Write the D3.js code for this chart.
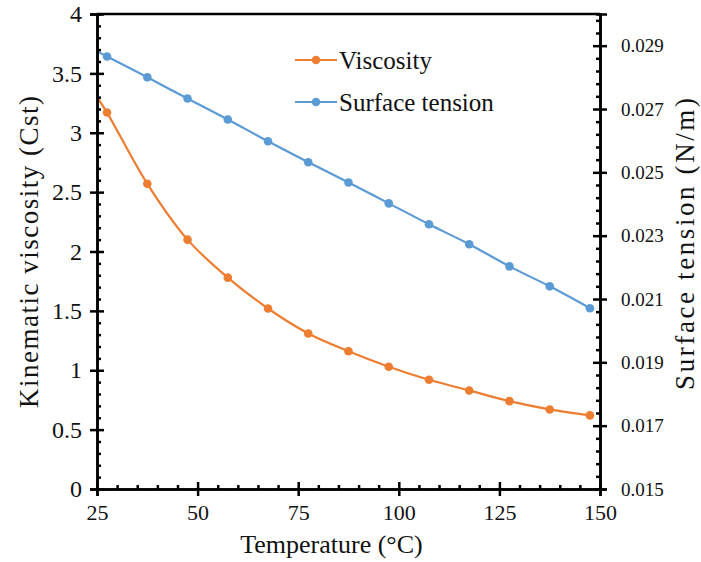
<!DOCTYPE html>
<html>
<head>
<meta charset="utf-8">
<script src="https://cdn.jsdelivr.net/npm/d3@7"></script>
<style>
  body { margin: 0; background: #fff; }
  svg text { font-family: "Liberation Serif", "Times New Roman", serif; fill: #111; }
</style>
</head>
<body>
<svg id="chart" width="701" height="562"></svg>
<script>
// temperatures (°C) and the two series
const temps = [25, 27.5, 37.5, 47.5, 57.5, 67.5, 77.5, 87.5, 97.5, 107.5, 117.5, 127.5, 137.5, 147.5];
const viscosity = [3.30, 3.17, 2.57, 2.10, 1.78, 1.52, 1.31, 1.16, 1.03, 0.92, 0.83, 0.74, 0.67, 0.62];
const tension = [0.02882, 0.02866, 0.0280, 0.02733, 0.02667, 0.02598, 0.02532, 0.02468, 0.02402, 0.02336, 0.02273, 0.02203, 0.0214, 0.02071];

const xTicks = [25, 50, 75, 100, 125, 150];
const yLeftTicks = [0, 0.5, 1, 1.5, 2, 2.5, 3, 3.5, 4];
const yRightTicks = [0.015, 0.017, 0.019, 0.021, 0.023, 0.025, 0.027, 0.029];

const seriesNames = ["Viscosity", "Surface tension"];
const colors = ["#ED7D31", "#5B9BD5"];

const svg = d3.select("#chart");
const L = 97, R = 600, T = 14, B = 489;

const x = d3.scaleLinear().domain([25, 150]).range([L, R]);
const yL = d3.scaleLinear().domain([0, 4]).range([B, T]);
const yR = d3.scaleLinear().domain([0.015, 0.030]).range([B, T]);

const minorX = d3.range(25, 150.01, 5);
const minorL = d3.range(0, 4.001, 0.1);
const minorR = d3.range(0.015, 0.0300001, 0.0004);

// series
const line = (ys, yScale) => d3.line()
    .x((d, i) => x(temps[i]))
    .y(d => yScale(d))
    .curve(d3.curveCatmullRom.alpha(0.5))(ys);

const series = [
    { name: seriesNames[0], values: viscosity, scale: yL, color: colors[0] },
    { name: seriesNames[1], values: tension, scale: yR, color: colors[1] }
];

series.forEach(s => {
    svg.append("path")
        .attr("d", line(s.values, s.scale))
        .attr("fill", "none")
        .attr("stroke", s.color)
        .attr("stroke-width", 2.2);
    // the 25 °C start point sits on the axis, no marker shows there
    svg.append("g").selectAll("circle")
        .data(s.values.slice(1))
        .join("circle")
        .attr("cx", (d, i) => x(temps[i + 1]))
        .attr("cy", d => s.scale(d))
        .attr("r", 4.3)
        .attr("fill", s.color);
});

// top frame line
svg.append("line")
    .attr("x1", L).attr("x2", R).attr("y1", T).attr("y2", T)
    .attr("stroke", "#000").attr("stroke-width", 2.5);

function styleAxis(g) {
    g.selectAll(".domain").attr("stroke", "#000").attr("stroke-width", 2.5);
    g.selectAll(".tick line").attr("stroke", "#000").attr("stroke-width", 2.5);
}

// bottom axis: labels + outward major ticks, inward minor ticks
svg.append("g")
    .attr("transform", `translate(0,${B})`)
    .call(d3.axisBottom(x).tickValues(xTicks).tickSize(7).tickPadding(8))
    .call(styleAxis)
    .call(g => g.selectAll("text").attr("font-size", 22).attr("font-family", "Liberation Serif"));
svg.append("g")
    .attr("transform", `translate(0,${B})`)
    .call(d3.axisTop(x).tickValues(minorX).tickSize(4).tickFormat(""))
    .call(styleAxis)
    .call(g => g.selectAll(".tick line").filter(d => xTicks.includes(d)).attr("y2", -7));

// left axis
svg.append("g")
    .attr("transform", `translate(${L},0)`)
    .call(d3.axisLeft(yL).tickValues(yLeftTicks).tickSize(7).tickPadding(8).tickFormat(d3.format("")))
    .call(styleAxis)
    .call(g => g.selectAll("text").attr("font-size", 24).attr("font-family", "Liberation Serif"));
svg.append("g")
    .attr("transform", `translate(${L},0)`)
    .call(d3.axisRight(yL).tickValues(minorL).tickSize(4).tickFormat(""))
    .call(styleAxis)
    .call(g => g.selectAll(".tick line").filter(d => Math.abs(d * 2 - Math.round(d * 2)) < 1e-6).attr("x2", 7));

// right axis
svg.append("g")
    .attr("transform", `translate(${R},0)`)
    .call(d3.axisRight(yR).tickValues(yRightTicks).tickSize(7).tickPadding(14).tickFormat(d3.format(".3f")))
    .call(styleAxis)
    .call(g => g.selectAll("text").attr("font-size", 19).attr("font-family", "Liberation Serif"));
svg.append("g")
    .attr("transform", `translate(${R},0)`)
    .call(d3.axisLeft(yR).tickValues(minorR).tickSize(4).tickFormat(""))
    .call(styleAxis)
    .call(g => g.selectAll(".tick line").filter(d => yRightTicks.some(v => Math.abs(v - d) < 1e-7)).attr("x2", -7));

// axis titles
svg.append("text")
    .attr("x", (L + R) / 2 - 17).attr("y", 553)
    .attr("text-anchor", "middle")
    .attr("font-size", 26)
    .text("Temperature (°C)");

svg.append("text")
    .attr("transform", `translate(38,252) rotate(-90)`)
    .attr("text-anchor", "middle")
    .attr("font-size", 27)
    .attr("textLength", 312)
    .attr("lengthAdjust", "spacing")
    .text("Kinematic viscosity (Cst)");

svg.append("text")
    .attr("transform", `translate(694,244) rotate(-90)`)
    .attr("text-anchor", "middle")
    .attr("font-size", 27)
    .attr("textLength", 292)
    .attr("lengthAdjust", "spacing")
    .text("Surface tension (N/m)");

// legend
const legend = svg.append("g").attr("transform", "translate(295,60)");
series.forEach((s, i) => {
    const g = legend.append("g").attr("transform", `translate(0,${i * 42})`);
    g.append("line").attr("x1", 0).attr("x2", 42).attr("stroke", s.color).attr("stroke-width", 2.2);
    g.append("circle").attr("cx", 21).attr("r", 4.3).attr("fill", s.color);
    g.append("text").attr("x", 44).attr("y", 9).attr("font-size", 25).text(s.name);
});
</script>
</body>
</html>
